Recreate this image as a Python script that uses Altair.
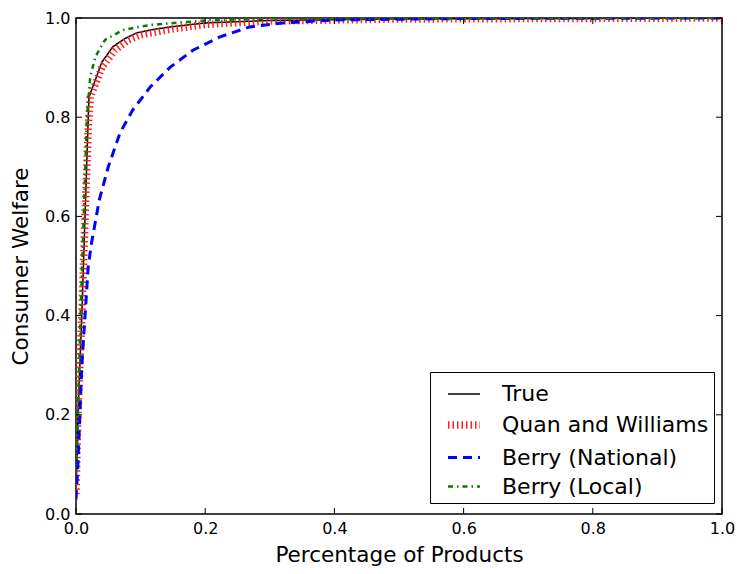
import altair as alt
import pandas as pd

series_names = ["True", "Quan and Williams", "Berry (National)", "Berry (Local)"]

x_true = [0.0, 0.002, 0.003, 0.009, 0.014, 0.019, 0.020, 0.040, 0.057, 0.075, 0.094, 0.120, 0.146, 0.200, 0.300, 0.500, 1.000]
y_true = [0.06, 0.115, 0.20, 0.40, 0.60, 0.80, 0.84, 0.911, 0.942, 0.958, 0.970, 0.977, 0.982, 0.990, 0.995, 0.998, 1.000]

x_qw = [0.0, 0.003, 0.009, 0.014, 0.019, 0.022, 0.040, 0.060, 0.080, 0.100, 0.150, 0.200, 0.300, 0.500, 1.000]
y_qw = [0.04, 0.20, 0.40, 0.60, 0.78, 0.84, 0.900, 0.935, 0.955, 0.966, 0.978, 0.987, 0.994, 0.998, 1.000]

x_bn = [0.0, 0.003, 0.006, 0.009, 0.014, 0.019, 0.024, 0.036, 0.050, 0.068, 0.088, 0.115, 0.146, 0.181, 0.223, 0.269, 0.320, 0.400, 0.600, 1.000]
y_bn = [0.03, 0.10, 0.20, 0.30, 0.40, 0.50, 0.546, 0.633, 0.700, 0.768, 0.815, 0.861, 0.901, 0.935, 0.962, 0.982, 0.990, 0.996, 0.999, 1.000]

x_bl = [0.0, 0.003, 0.007, 0.012, 0.017, 0.022, 0.030, 0.045, 0.073, 0.115, 0.200, 0.300, 1.000]
y_bl = [0.08, 0.20, 0.40, 0.60, 0.80, 0.881, 0.922, 0.956, 0.976, 0.986, 0.995, 0.999, 1.000]

tick_values = [0.0, 0.2, 0.4, 0.6, 0.8, 1.0]

colors = ["black", "#ff2020", "#0000ff", "#008000"]
dashes = [[1, 0], [1.5, 3], [9, 6], [5, 4, 1.5, 4]]
widths = [1.5, 7.5, 3, 2.5]

rows = []
for name, xs, ys in zip(series_names, [x_true, x_qw, x_bn, x_bl], [y_true, y_qw, y_bn, y_bl]):
    for i, (a, b) in enumerate(zip(xs, ys)):
        rows.append({"series": name, "x": a, "y": b, "order": i})
df = pd.DataFrame(rows)

W, H = 646, 496

xscale = alt.Scale(domain=[0, 1], nice=False, zero=False)
yscale = alt.Scale(domain=[0, 1], nice=False, zero=False)

lines = alt.Chart(df).mark_line(clip=True).encode(
    x=alt.X("x:Q", scale=xscale,
            axis=alt.Axis(values=tick_values, format=".1f", title="Percentage of Products",
                          ticks=False, labelPadding=6, titlePadding=8, grid=False, labelFlush=False)),
    y=alt.Y("y:Q", scale=yscale,
            axis=alt.Axis(values=tick_values, format=".1f", title="Consumer Welfare",
                          ticks=False, labelPadding=6, titlePadding=12, grid=False, labelFlush=False)),
    color=alt.Color("series:N", scale=alt.Scale(domain=series_names, range=colors),
                    legend=alt.Legend(title=None, orient="none", legendX=354, legendY=354)),
    strokeDash=alt.StrokeDash("series:N", scale=alt.Scale(domain=series_names, range=dashes)),
    strokeWidth=alt.StrokeWidth("series:N", scale=alt.Scale(type="ordinal", domain=series_names, range=widths)),
    order="order:Q",
    detail="series:N",
)

ticks_df = pd.DataFrame({"t": tick_values})
base_t = alt.Chart(ticks_df)
xt_bottom = base_t.mark_rule(color="black", strokeWidth=1).encode(
    x=alt.X("t:Q", scale=xscale), y=alt.value(H), y2=alt.value(H - 6))
xt_top = base_t.mark_rule(color="black", strokeWidth=1).encode(
    x=alt.X("t:Q", scale=xscale), y=alt.value(0), y2=alt.value(6))
yt_left = base_t.mark_rule(color="black", strokeWidth=1).encode(
    y=alt.Y("t:Q", scale=yscale), x=alt.value(0), x2=alt.value(6))
yt_right = base_t.mark_rule(color="black", strokeWidth=1).encode(
    y=alt.Y("t:Q", scale=yscale), x=alt.value(W), x2=alt.value(W - 6))

chart = alt.layer(lines, xt_bottom, xt_top, yt_left, yt_right).properties(
    width=W, height=H,
    autosize=alt.AutoSizeParams(type="none"),
    padding={"left": 76, "top": 18, "right": 15, "bottom": 60},
    background="white",
).configure_view(
    stroke="black", strokeWidth=1.5
).configure_axis(
    domain=False,
    labelFont="DejaVu Sans", labelFontSize=16, labelColor="black",
    titleFont="DejaVu Sans", titleFontSize=21.5, titleColor="black", titleFontWeight="normal",
).configure_legend(
    labelFont="DejaVu Sans", labelFontSize=22, labelColor="black",
    symbolType="stroke", symbolSize=1024,
    strokeColor="black", fillColor="white", padding=5,
    rowPadding=0, symbolOffset=9, labelOffset=18, labelLimit=400,
    cornerRadius=0,
)

chart.save("out.html", embed_options={"renderer": "svg", "actions": False})
